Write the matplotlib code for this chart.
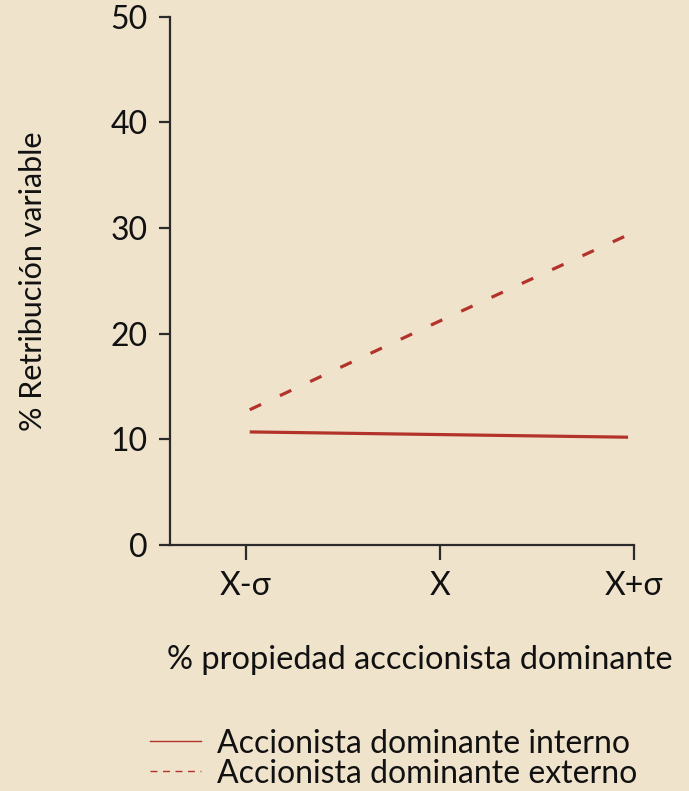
import matplotlib
matplotlib.use("Agg")
from matplotlib import pyplot as plt
from matplotlib.lines import Line2D

plt.rcParams['font.family'] = ['Lato', 'DejaVu Sans']
plt.rcParams['lines.scale_dashes'] = False

bg = '#efe3cc'
red = '#b3332b'
ink = '#2b2b2b'

# data
x_labels = ['X-σ', 'X', 'X+σ']
x_pos = [0, 1, 2]
interno = [10.7, 10.45, 10.2]
externo = [12.8, 21.2, 29.6]
series_names = ['Accionista dominante interno', 'Accionista dominante externo']

fig = plt.figure(figsize=(6.89, 7.91), dpi=100, facecolor=bg)
ax = fig.add_axes([0.247, 0.311, 0.673, 0.668])
ax.set_facecolor(bg)

ax.plot([0.02, 1, 1.97], interno, color=red, lw=2.3, solid_capstyle='butt')
ax.plot([0.02, 1, 2.0], externo, color=red, lw=2.3, dashes=(9, 15))

ax.set_xlim(-0.39, 2.0)
ax.set_ylim(0, 50)
ax.set_yticks([0, 10, 20, 30, 40, 50])
ax.set_xticks(x_pos)
ax.set_xticklabels(x_labels)

for s in ['top', 'right']:
    ax.spines[s].set_visible(False)
for s in ['left', 'bottom']:
    ax.spines[s].set_color(ink)
    ax.spines[s].set_linewidth(1.6)
ax.tick_params(axis='y', length=8, width=1.6, color=ink, labelsize=23, pad=8,
               labelcolor='#111111')
ax.tick_params(axis='x', length=11, width=1.6, color=ink, labelsize=23, pad=8,
               labelcolor='#111111')

ax.set_ylabel('% Retribución variable', fontsize=22, color='#111111')
ax.yaxis.set_label_coords(-0.265, 0.5)
fig.text(0.61, 0.165, '% propiedad acccionista dominante', fontsize=23.5,
         ha='center', va='center', color='#111111')

handles = [Line2D([], [], color=red, lw=1.0),
           Line2D([], [], color=red, lw=1.0, dashes=(5, 4))]
fig.legend(handles, series_names, loc='lower left', bbox_to_anchor=(0.199, -0.013),
           frameon=False, fontsize=23, handlelength=1.6, handletextpad=0.5,
           labelspacing=0.0, borderaxespad=0.0, labelcolor='#111111')

fig.savefig('out.png', facecolor=bg)
